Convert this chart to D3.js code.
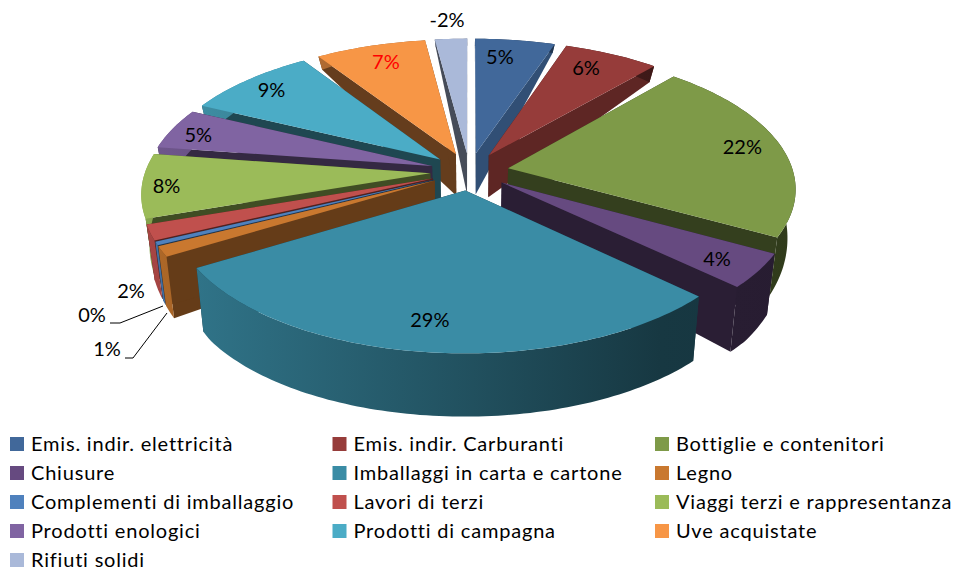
<!DOCTYPE html>
<html>
<head>
<meta charset="utf-8">
<script src="https://cdn.jsdelivr.net/npm/d3@7"></script>
<style>
  html, body { margin: 0; padding: 0; background: #fff; overflow: hidden; }
  text { font-family: Lato, "Noto Sans", sans-serif; fill: #000; }
</style>
</head>
<body>
<div class="container"></div>
<script>
const categories = ['Emis. indir. elettricità', 'Emis. indir. Carburanti', 'Bottiglie e contenitori',
    'Chiusure', 'Imballaggi in carta e cartone', 'Legno', 'Complementi di imballaggio', 'Lavori di terzi',
    'Viaggi terzi e rappresentanza', 'Prodotti enologici', 'Prodotti di campagna', 'Uve acquistate', 'Rifiuti solidi'];
const values = [5.2, 6.2, 21.6, 4, 29.4, 1.2, 0.4, 1.8, 7.5, 4.8, 8.6, 7.2, -2.1];
const colors = ['#41689a', '#963c3a', '#7e9a48', '#664a80', '#3a8ca5', '#c9782f', '#4f81bd',
    '#c0504d', '#9bbb59', '#8064a2', '#4bacc6', '#f79646', '#aab9d9'];

const width = 956, height = 567;

// projection of the tilted pie, fitted by eye on the picture
const cx = 469.5, cy = 171.5, rx = 285, ry = 135, persp = 0.137, explode = 0.138;
// wall height seen on screen, by depth in the pie plane
const wallHeight = d3.scaleLinear().domain([-1.2, -0.7, 0.14, 1.2]).range([63, 65, 41, 5]).clamp(true);

function project(x, z, drop) {
    const w = 1 + persp * z;
    const h = drop ? wallHeight(z) : 0;
    const conv = drop ? 0.975 : 1;
    return [cx + conv * rx * x / w, cy - ry * z / w + h];
}

const shade = d3.scaleLinear().domain([136, 660, 800]).range([0.88, 0.4, 0.38]).clamp(true);
// cut faces turned to the right catch more light near the top of the pie
const cutShade = d3.scaleLinear().domain([0, 0.32, 0.7, 1.6]).range([0.8, 0.76, 0.63, 0.41]).clamp(true);
const scaled = (c, f) => {
    const o = d3.rgb(c);
    return d3.rgb(o.r * f, o.g * f, o.b * f).formatHex();
};

const pie = d3.pie().sort(null).value(d => Math.abs(d));
const arcs = pie(values).map((d, i) => {
    const mid = (d.startAngle + d.endAngle) / 2;
    return {
        i, mid,
        a0: d.startAngle, a1: d.endAngle,
        ox: explode * Math.sin(mid),
        oz: explode * Math.cos(mid),
        value: d.value
    };
});

const line = d3.line();
const world = (s, a, r) => [s.ox + r * Math.sin(a), s.oz + r * Math.cos(a)];
const pt = (s, a, r, drop) => {
    const p = world(s, a, r);
    return project(p[0], p[1], drop);
};
const rim = (s, drop) => {
    const n = Math.max(2, Math.ceil((s.a1 - s.a0) / 0.02));
    return d3.range(n + 1).map(k => pt(s, s.a0 + (s.a1 - s.a0) * k / n, 1, drop));
};

const svg = d3.select('.container').append('svg')
    .attr('width', width).attr('height', height)
    .attr('viewBox', [0, 0, width, height])
    .style('display', 'block');

const defs = svg.append('defs');
colors.forEach((c, i) => {
    const g = defs.append('linearGradient').attr('id', 'wall' + i)
        .attr('gradientUnits', 'userSpaceOnUse')
        .attr('x1', 136).attr('x2', 800).attr('y1', 0).attr('y2', 0);
    shade.domain().forEach(x => {
        g.append('stop').attr('offset', (x - 136) / 664).attr('stop-color', scaled(c, shade(x)));
    });
});

// back slices first
const order = arcs.slice().sort((a, b) => Math.cos(b.mid) - Math.cos(a.mid));
const pieG = svg.append('g');
order.forEach(s => {
    const c = colors[s.i];
    const g = pieG.append('g');
    const apex = world(s, 0, 0);
    const apexT = project(apex[0], apex[1], false), apexB = project(apex[0], apex[1], true);
    [s.a0, s.a1].forEach(a => {
        let f = a === s.a1 && a < Math.PI ? cutShade(a) : 0.41;
        if (s.i === 5) f = 0.5;
        g.append('path')
            .attr('d', line([apexT, pt(s, a, 1, false), pt(s, a, 1, true), apexB]) + 'Z')
            .attr('fill', scaled(c, f));
    });
    g.append('path')
        .attr('d', line(rim(s, false).concat(rim(s, true).reverse())) + 'Z')
        .attr('fill', 'url(#wall' + s.i + ')');
    g.append('path')
        .attr('d', line([apexT].concat(rim(s, false))) + 'Z')
        .attr('fill', c);
});

// data labels, the small ones sit outside with leader lines
const outside = {
    5: {x: 107, y: 349, leader: [[125, 358], [133, 358], [167, 313]]},
    6: {x: 92, y: 315, leader: [[110, 323], [120, 323], [163, 306]]},
    7: {x: 131, y: 291},
    12: {x: 447, y: 20}
};
const nudge = {0: [-10, 2], 1: [-9, 0], 2: [2, -2], 3: [0, 2], 4: [-5, -5], 8: [-19, 2], 9: [-12, 1], 10: [-3, -1], 11: [4, 1]};
const labels = svg.append('g').attr('font-size', 20);
arcs.forEach(s => {
    const o = outside[s.i];
    const n = nudge[s.i] || [0, 0];
    const p = o ? [o.x, o.y] : pt(s, s.mid, 0.85, false);
    labels.append('text')
        .attr('x', p[0] + n[0]).attr('y', p[1] + n[1])
        .attr('text-anchor', 'middle').attr('dy', '0.35em')
        .style('fill', s.i === 11 ? '#ff0000' : '#000')
        .text(Math.round(values[s.i]) + '%');
    if (o && o.leader) {
        labels.append('path').attr('d', line(o.leader))
            .attr('fill', 'none').attr('stroke', '#000').attr('stroke-width', 1);
    }
});

// legend
const legendX = d3.scalePoint().domain([0, 1, 2]).range([10, 655]);
const legendY = d3.scaleLinear().domain([0, 4]).range([437, 553]);
const legend = svg.append('g').attr('font-size', 20).attr('letter-spacing', 0.8);
categories.forEach((name, i) => {
    const col = i % 3, row = Math.floor(i / 3);
    legend.append('rect')
        .attr('x', legendX(col)).attr('y', legendY(row))
        .attr('width', 14).attr('height', 14)
        .attr('fill', colors[i]);
    legend.append('text')
        .attr('x', legendX(col) + 21).attr('y', legendY(row) + 13.5)
        .text(name);
});
</script>
</body>
</html>
